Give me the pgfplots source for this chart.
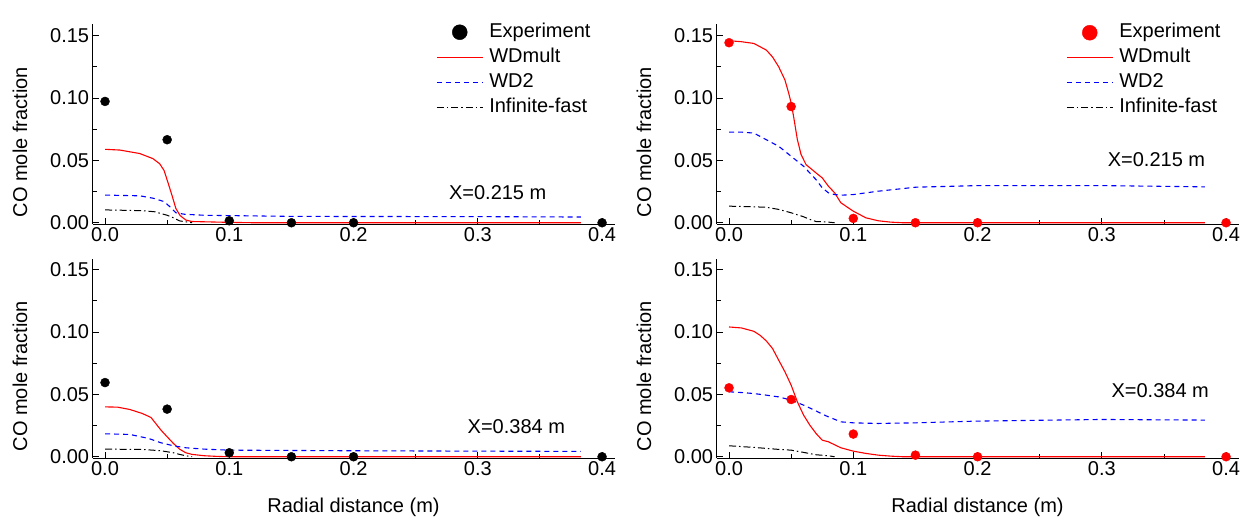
\documentclass[border=0pt]{standalone}
\usepackage{fontspec}
\setmainfont{Liberation Sans}
\usepackage{pgfplots}
\pgfplotsset{compat=1.18}

\newcommand{\fs}{\fontsize{20pt}{24pt}\selectfont}

\pgfplotsset{
  copanel/.style={
    scale only axis, width=521.9pt, height=199.5pt,
    anchor=south west, clip=false,
    xmin=-0.01, xmax=0.41, ymin=-0.001, ymax=0.159,
    axis x line=bottom, axis y line=left,
    axis line style={-, line width=1pt},
    tick align=inside, tick style={black, line width=0.9pt},
    major tick length=6pt, minor tick length=4pt,
    xtick={0,0.1,0.2,0.3,0.4}, minor xtick={0.05,0.15,0.25,0.35},
    ytick={0,0.05,0.1,0.15}, minor ytick={0.025,0.075,0.125},
    scaled ticks=false,
    xticklabel style={/pgf/number format/.cd, fixed, fixed zerofill, precision=1},
    yticklabel style={/pgf/number format/.cd, fixed, fixed zerofill, precision=2},
    /pgf/number format/assume math mode=true,
    tick label style={font=\fs},
    label style={font=\fs},
    ylabel={CO mole fraction},
    ylabel style={at={(axis description cs:-0.139,0.41)}, anchor=center},
    xlabel style={at={(axis description cs:0.5,0)}, yshift=-49pt, anchor=center},
    legend cell align=left,
    legend image code/.code={\draw[##1] (0pt,0pt) -- (46pt,0pt);},
    legend style={draw=none, fill=none, font=\fs, anchor=north west,
      inner xsep=0pt, inner ysep=0pt,
      nodes={inner sep=0pt, text height=15pt, text depth=5pt},
      row sep=5pt, column sep=6pt},
  },
  wdm/.style={red, line width=1.1pt},
  wd2/.style={blue, line width=1.1pt, dash pattern=on 5pt off 4pt},
  inf/.style={black, line width=1pt, dash pattern=on 7pt off 3pt on 1.5pt off 3pt},
}

\begin{document}
\begin{tikzpicture}
\useasboundingbox (0,0) rectangle (1248pt,523pt);

% ---- top left: X=0.215 m ----
\begin{axis}[copanel, at={(92.6pt,299pt)},
  legend style={at={(axis description cs:0.658,1.0125)}}]
\addplot[only marks, mark=*, mark size=4.5pt, black,
  legend image code/.code={\fill[black] (23pt,0pt) circle (7.5pt);}]
  coordinates {(0,0.0973)(0.05,0.0666)(0.1,0.0016)(0.15,0)(0.2,0)(0.4,0)};
\addlegendentry{Experiment}
\addplot[wdm] coordinates {
  (0,0.0589)(0.012,0.0583)(0.028,0.0555)(0.0386,0.0514)(0.044,0.0473)
  (0.0475,0.042)(0.0506,0.0324)(0.054,0.0216)(0.057,0.0115)(0.0604,0.0058)
  (0.065,0.0022)(0.0698,0.001)(0.096,0.0004)(0.12,0)(0.383,0)};
\addlegendentry{WDmult}
\addplot[wd2] coordinates {
  (0,0.0222)(0.028,0.0216)(0.0386,0.0197)(0.0475,0.017)(0.052,0.013)
  (0.057,0.008)(0.064,0.0068)(0.08,0.006)(0.15,0.0051)(0.3,0.0049)(0.383,0.0046)};
\addlegendentry{WD2}
\addplot[inf] coordinates {
  (0,0.0103)(0.03,0.0097)(0.04,0.0088)(0.05,0.006)(0.055,0.004)
  (0.06,0.0015)(0.07,0)};
\addlegendentry{Infinite-fast}
\node[font=\fs] at (axis cs:0.316,0.0239) {X=0.215 m};
\end{axis}

% ---- top right: X=0.215 m ----
\begin{axis}[copanel, at={(716.6pt,299pt)},
  legend style={at={(axis description cs:0.6695,1.01)}}]
\addplot[only marks, mark=*, mark size=4.5pt, red,
  legend image code/.code={\fill[red] (23pt,0pt) circle (7.5pt);}]
  coordinates {(0,0.1444)(0.05,0.0932)(0.1,0.0035)(0.15,0)(0.2,0)(0.4,0)};
\addlegendentry{Experiment}
\addplot[wdm] coordinates {
  (0,0.146)(0.01,0.1452)(0.02,0.1438)(0.03,0.1385)(0.035,0.133)(0.04,0.125)
  (0.045,0.1145)(0.048,0.104)(0.05,0.096)(0.052,0.085)(0.055,0.0666)
  (0.058,0.0546)(0.062,0.0466)(0.07,0.04)(0.075,0.036)(0.08,0.0293)
  (0.085,0.024)(0.09,0.016)(0.1,0.0093)(0.11,0.004)(0.12,0.0016)
  (0.13,0.0005)(0.14,0)(0.383,0)};
\addlegendentry{WDmult}
\addplot[wd2] coordinates {
  (0,0.0727)(0.01,0.0727)(0.02,0.0719)(0.03,0.0666)(0.04,0.0613)(0.05,0.0533)
  (0.06,0.0453)(0.07,0.0346)(0.075,0.028)(0.08,0.024)(0.085,0.0226)
  (0.09,0.0221)(0.1,0.0226)(0.12,0.0253)(0.15,0.0285)(0.2,0.0298)
  (0.3,0.0298)(0.383,0.0288)};
\addlegendentry{WD2}
\addplot[inf] coordinates {
  (0,0.0133)(0.02,0.0128)(0.03,0.0124)(0.04,0.0107)(0.05,0.008)(0.06,0.0048)
  (0.065,0.0027)(0.07,0.001)(0.08,0.0005)(0.085,0)};
\addlegendentry{Infinite-fast}
\node[font=\fs] at (axis cs:0.344,0.0503) {X=0.215 m};
\end{axis}

% ---- bottom left: X=0.384 m ----
\begin{axis}[copanel, at={(92.6pt,65pt)}, xlabel={Radial distance (m)}]
\addplot[only marks, mark=*, mark size=4.5pt, black]
  coordinates {(0,0.0595)(0.05,0.0382)(0.1,0.0032)(0.15,0)(0.2,0)(0.4,0)};
\addplot[wdm] coordinates {
  (0,0.040)(0.01,0.0398)(0.02,0.0379)(0.03,0.0347)(0.037,0.0315)(0.045,0.0214)
  (0.05,0.016)(0.055,0.0107)(0.06,0.0061)(0.065,0.0032)(0.07,0.0019)
  (0.08,0.0008)(0.09,0.0003)(0.1,0)(0.383,0)};
\addplot[wd2] coordinates {
  (0,0.0184)(0.02,0.0179)(0.035,0.0147)(0.045,0.0112)(0.055,0.0088)
  (0.065,0.0072)(0.08,0.0061)(0.1,0.0053)(0.2,0.0048)(0.3,0.0045)(0.383,0.0043)};
\addplot[inf] coordinates {
  (0,0.0061)(0.03,0.0059)(0.045,0.0048)(0.055,0.0032)(0.06,0.0019)
  (0.065,0.0008)(0.07,0)};
\node[font=\fs] at (axis cs:0.331,0.0239) {X=0.384 m};
\end{axis}

% ---- bottom right: X=0.384 m ----
\begin{axis}[copanel, at={(716.6pt,65pt)}, xlabel={Radial distance (m)}]
\addplot[only marks, mark=*, mark size=4.5pt, red]
  coordinates {(0,0.0553)(0.05,0.0459)(0.1,0.0182)(0.15,0.0013)(0.2,0)(0.4,0)};
\addplot[wdm] coordinates {
  (0,0.1041)(0.01,0.1033)(0.02,0.1006)(0.025,0.0974)(0.03,0.0929)(0.035,0.0868)
  (0.04,0.0774)(0.045,0.0681)(0.05,0.0574)(0.055,0.044)(0.06,0.0334)
  (0.065,0.0254)(0.07,0.0187)(0.075,0.0133)(0.08,0.012)(0.09,0.0072)
  (0.1,0.0045)(0.11,0.0027)(0.12,0.0013)(0.13,0.0005)(0.14,0)(0.383,0)};
\addplot[wd2] coordinates {
  (0,0.0521)(0.01,0.0515)(0.02,0.0507)(0.03,0.0494)(0.04,0.048)(0.05,0.0454)
  (0.06,0.0414)(0.07,0.0368)(0.075,0.0342)(0.08,0.032)(0.09,0.028)(0.1,0.0272)
  (0.12,0.0267)(0.15,0.0272)(0.2,0.0286)(0.3,0.0299)(0.383,0.0294)};
\addplot[inf] coordinates {
  (0,0.0088)(0.02,0.0075)(0.04,0.0059)(0.05,0.0053)(0.06,0.0035)(0.07,0.0016)
  (0.08,0.0008)(0.085,0)};
\node[font=\fs] at (axis cs:0.347,0.0527) {X=0.384 m};
\end{axis}
\end{tikzpicture}
\end{document}
